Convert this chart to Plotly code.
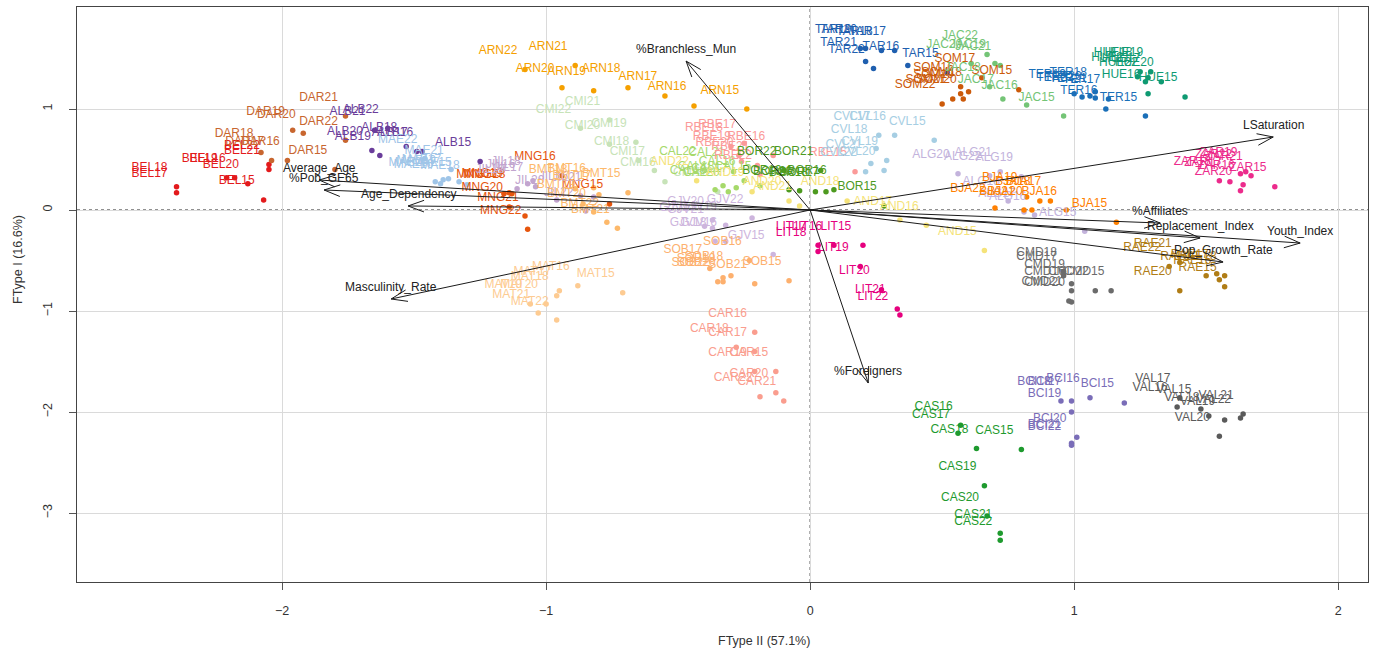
import math
import plotly.graph_objects as go

# ---------------- data ----------------
YEARS = ["15", "16", "17", "18", "19", "20", "21", "22"]

BEL_x = [-2.07, -2.18, -2.40, -2.40, -2.21, -2.13, -2.05, -2.05]
BEL_y = [0.10, 0.32, 0.17, 0.23, 0.32, 0.26, 0.40, 0.45]
DAR_x = [-1.80, -1.98, -2.04, -2.08, -1.96, -1.92, -1.76, -1.76]
DAR_y = [0.40, 0.49, 0.49, 0.57, 0.79, 0.76, 0.93, 0.69]
ALB_x = [-1.25, -1.47, -1.49, -1.53, -1.63, -1.66, -1.65, -1.60]
ALB_y = [0.48, 0.58, 0.58, 0.63, 0.54, 0.59, 0.79, 0.81]
MAE_x = [-1.33, -1.40, -1.37, -1.30, -1.39, -1.42, -1.36, -1.46]
MAE_y = [0.28, 0.26, 0.31, 0.25, 0.30, 0.28, 0.40, 0.51]
MNG_x = [-0.76, -0.94, -1.16, -1.13, -1.14, -1.14, -1.08, -1.07]
MNG_y = [0.06, 0.34, 0.16, 0.16, 0.17, 0.03, -0.06, -0.19]
JIL_x = [-0.87, -1.07, -1.04, -1.05, -1.11, -0.96, -0.82, -0.85]
JIL_y = [0.14, 0.26, 0.23, 0.29, 0.21, 0.10, 0.13, -0.01]
BMT_x = [-0.69, -0.82, -0.80, -0.89, -0.86, -0.82, -0.73, -0.77]
BMT_y = [0.17, 0.22, 0.15, 0.21, 0.06, -0.02, -0.18, -0.12]
ARN_x = [-0.24, -0.44, -0.55, -0.69, -0.82, -0.94, -0.89, -1.08]
ARN_y = [1.00, 1.03, 1.13, 1.21, 1.18, 1.21, 1.43, 1.39]
CMI_x = [-0.35, -0.55, -0.59, -0.65, -0.66, -0.76, -0.76, -0.87]
CMI_y = [0.18, 0.28, 0.39, 0.49, 0.67, 0.65, 0.89, 0.81]
CAL_x = [-0.19, -0.25, -0.28, -0.33, -0.36, -0.31, -0.29, -0.40]
CAL_y = [0.24, 0.29, 0.22, 0.24, 0.20, 0.18, 0.38, 0.39]
AND_x = [0.66, 0.44, 0.34, 0.14, -0.22, -0.08, -0.04, -0.43]
AND_y = [-0.40, -0.15, -0.10, 0.09, 0.18, 0.09, 0.04, 0.29]
RBE_x = [0.17, -0.14, -0.25, -0.30, -0.27, -0.26, -0.20, -0.19]
RBE_y = [0.38, 0.54, 0.66, 0.63, 0.54, 0.48, 0.44, 0.35]
BOR_x = [0.28, 0.09, 0.06, 0.02, -0.08, -0.04, 0.04, -0.10]
BOR_y = [0.04, 0.20, 0.18, 0.18, 0.20, 0.19, 0.39, 0.39]
CVL_x = [0.47, 0.32, 0.26, 0.25, 0.29, 0.28, 0.23, 0.21]
CVL_y = [0.69, 0.74, 0.74, 0.61, 0.49, 0.39, 0.46, 0.38]
GJV_x = [-0.14, -0.32, -0.40, -0.36, -0.32, -0.37, -0.37, -0.22]
GJV_y = [-0.44, -0.31, -0.16, -0.31, -0.15, -0.10, -0.18, -0.08]
SOB_x = [-0.08, -0.23, -0.38, -0.30, -0.33, -0.33, -0.21, -0.35]
SOB_y = [-0.70, -0.50, -0.58, -0.65, -0.67, -0.71, -0.73, -0.71]
MAT_x = [-0.71, -0.88, -0.95, -0.96, -1.06, -1.00, -1.03, -0.96]
MAT_y = [-0.82, -0.75, -0.80, -0.85, -0.93, -0.93, -1.02, -1.09]
CAR_x = [-0.13, -0.21, -0.21, -0.28, -0.21, -0.13, -0.10, -0.19]
CAR_y = [-1.60, -1.21, -1.40, -1.36, -1.60, -1.81, -1.89, -1.85]
LIT_x = [0.20, 0.09, 0.03, 0.03, 0.19, 0.27, 0.33, 0.34]
LIT_y = [-0.35, -0.35, -0.35, -0.41, -0.56, -0.79, -0.98, -1.04]
TAR_x = [0.52, 0.37, 0.32, 0.27, 0.19, 0.21, 0.21, 0.24]
TAR_y = [1.36, 1.43, 1.58, 1.58, 1.60, 1.60, 1.47, 1.40]
SOM_x = [0.79, 0.57, 0.65, 0.60, 0.57, 0.58, 0.54, 0.50]
SOM_y = [1.19, 1.22, 1.31, 1.17, 1.15, 1.10, 1.10, 1.05]
JAC_x = [0.96, 0.82, 0.73, 0.68, 0.70, 0.61, 0.72, 0.67]
JAC_y = [0.93, 1.04, 1.10, 1.22, 1.45, 1.45, 1.43, 1.54]
TER_x = [1.27, 1.12, 1.13, 1.08, 1.00, 1.06, 1.08, 1.03]
TER_y = [0.93, 1.00, 1.10, 1.17, 1.15, 1.13, 1.11, 1.12]
HUE_x = [1.42, 1.28, 1.28, 1.25, 1.29, 1.33, 1.24, 1.27]
HUE_y = [1.12, 1.15, 1.31, 1.37, 1.37, 1.27, 1.32, 1.27]
ZAR_x = [1.76, 1.64, 1.59, 1.55, 1.65, 1.63, 1.67, 1.63]
ZAR_y = [0.23, 0.25, 0.28, 0.29, 0.38, 0.19, 0.34, 0.36]
ALG_x = [1.04, 0.85, 0.81, 0.75, 0.80, 0.56, 0.72, 0.68]
ALG_y = [-0.21, -0.05, -0.02, 0.09, 0.33, 0.36, 0.38, 0.34]
BJA_x = [1.16, 0.97, 0.91, 0.87, 0.82, 0.84, 0.81, 0.70]
BJA_y = [-0.12, 0.00, 0.09, 0.09, 0.13, 0.00, 0.00, 0.02]
RAE_x = [1.57, 1.55, 1.54, 1.57, 1.50, 1.40, 1.40, 1.36]
RAE_y = [-0.76, -0.69, -0.63, -0.65, -0.65, -0.80, -0.52, -0.56]
CMD_x = [1.14, 0.99, 0.96, 0.96, 0.99, 0.99, 0.98, 1.08]
CMD_y = [-0.80, -0.80, -0.65, -0.61, -0.73, -0.91, -0.90, -0.80]
BCI_x = [1.19, 1.06, 0.99, 0.95, 0.99, 1.01, 0.99, 0.99]
BCI_y = [-1.91, -1.86, -1.89, -1.89, -2.00, -2.25, -2.31, -2.33]
VAL_x = [1.48, 1.39, 1.40, 1.51, 1.57, 1.55, 1.64, 1.63]
VAL_y = [-1.97, -1.95, -1.86, -2.04, -2.08, -2.24, -2.02, -2.06]
CAS_x = [0.80, 0.57, 0.56, 0.63, 0.66, 0.67, 0.72, 0.72]
CAS_y = [-2.37, -2.13, -2.21, -2.36, -2.73, -3.03, -3.20, -3.27]

VAR_NAMES = ["LSaturation", "Youth_Index", "Pop_Growth_Rate", "Replacement_Index",
             "%Affiliates", "Masculinity_Rate", "Age_Dependency", "%Pob_GE65",
             "Average_Age", "%Branchless_Mun", "%Foreigners"]
VAR_X = [1.754, 1.856, 1.564, 1.477, 1.326, -1.587, -1.523, -1.841, -1.86, -0.470, 0.220]
VAR_Y = [0.723, -0.327, -0.515, -0.277, -0.129, -0.881, 0.040, 0.198, 0.297, 1.475, -1.713]

X_TITLE = "FType II (57.1%)"
Y_TITLE = "FType I (16.6%)"

# ---------------- style ----------------
COLORS = {
    "BEL": "#E31A1C", "DAR": "#C8662F", "ALB": "#6A3D9A", "MAE": "#9FC5E8",
    "MNG": "#E6550D", "JIL": "#C2A5CF", "BMT": "#FDB96B", "ARN": "#F5A000",
    "CMI": "#C7E3B8", "CAL": "#A6D96A", "AND": "#F5E37A", "RBE": "#FB9A99",
    "BOR": "#4D9A1F", "CVL": "#A6CEE3", "GJV": "#CDB5DD", "SOB": "#FDB06E",
    "MAT": "#FDCB92", "CAR": "#FA9D8E", "LIT": "#E6007E", "TAR": "#1F5FAF",
    "SOM": "#CC5A0A", "JAC": "#74C476", "TER": "#1A6FB8", "HUE": "#0E9A72",
    "ZAR": "#EC2B8C", "ALG": "#C3B3DC", "BJA": "#FF8000", "RAE": "#B07D16",
    "CMD": "#6B6B6B", "BCI": "#7A6DB8", "VAL": "#5A5A5A", "CAS": "#1E9A2E",
}
G = globals()
GROUP_ORDER = ["BEL", "DAR", "ALB", "MAE", "MNG", "JIL", "BMT", "ARN", "CMI", "CAL",
               "AND", "RBE", "BOR", "CVL", "GJV", "SOB", "MAT", "CAR", "LIT", "TAR",
               "SOM", "JAC", "TER", "HUE", "ZAR", "ALG", "BJA", "RAE", "CMD", "BCI",
               "VAL", "CAS"]

W, H = 1378, 657
ML, MR, MT, MB = 77, 10, 7, 75
XR = [-2.777, 2.113]
YR = [-3.683, 2.010]
SX = (W - ML - MR) / (XR[1] - XR[0])   # px per unit
SY = (H - MT - MB) / (YR[1] - YR[0])

FONT = "Liberation Sans, Arial, sans-serif"
LBL_DX = -27 / SX
LBL_DY = 18.5 / SY

fig = go.Figure()

# zero dotted lines
fig.add_shape(type="line", x0=0, x1=0, y0=YR[0], y1=YR[1], xref="x", yref="y",
              line=dict(color="#222222", width=1, dash="dot"), layer="below")
fig.add_shape(type="line", x0=XR[0], x1=XR[1], y0=0, y1=0, xref="x", yref="y",
              line=dict(color="#222222", width=1, dash="dot"), layer="below")

# points
for g in GROUP_ORDER:
    xs, ys = G[g + "_x"], G[g + "_y"]
    fig.add_trace(go.Scatter(x=xs, y=ys, mode="markers",
                             marker=dict(size=5.5, color=COLORS[g]),
                             hoverinfo="skip", showlegend=False))
# labels
for g in GROUP_ORDER:
    xs, ys = G[g + "_x"], G[g + "_y"]
    fig.add_trace(go.Scatter(x=[v + LBL_DX for v in xs], y=[v + LBL_DY for v in ys],
                             mode="text", text=[g + yy for yy in YEARS],
                             textfont=dict(family=FONT, size=12, color=COLORS[g]),
                             hoverinfo="skip", showlegend=False))

# arrows
ax, ay = [], []
HEAD_L, HEAD_A = 17, math.radians(20)
for tx, ty in zip(VAR_X, VAR_Y):
    ang = math.atan2(ty * SY, tx * SX)
    ax += [0, tx, None]
    ay += [0, ty, None]
    hx, hy = [], []
    for s in (1, -1):
        a = ang + s * HEAD_A
        hx.append(tx - HEAD_L * math.cos(a) / SX)
        hy.append(ty - HEAD_L * math.sin(a) / SY)
    ax += [hx[0], tx, hx[1], None]
    ay += [hy[0], ty, hy[1], None]
fig.add_trace(go.Scatter(x=ax, y=ay, mode="lines", line=dict(color="#1a1a1a", width=1),
                         hoverinfo="skip", showlegend=False))

for name, tx, ty in zip(VAR_NAMES, VAR_X, VAR_Y):
    fig.add_annotation(x=tx, y=ty, text=name, showarrow=False, yshift=12,
                       font=dict(family=FONT, size=12, color="#222222"))

fig.add_annotation(xref="paper", yref="paper", x=(764 - ML) / (W - ML - MR),
                   y=(H - MB - 641) / (H - MT - MB), text=X_TITLE, showarrow=False,
                   xanchor="center", yanchor="middle",
                   font=dict(family=FONT, size=12.5, color="#333333"))
fig.add_annotation(xref="paper", yref="paper", x=(18 - ML) / (W - ML - MR),
                   y=(H - MB - 260) / (H - MT - MB), text=Y_TITLE, showarrow=False,
                   xanchor="center", yanchor="middle",
                   textangle=-90, font=dict(family=FONT, size=12.5, color="#333333"))

axis_common = dict(showgrid=True, gridcolor="#dadada", gridwidth=1, zeroline=False,
                   showline=True, mirror=True, linecolor="#444444", linewidth=1,
                   ticks="outside", ticklen=7, tickcolor="#555555",
                   tickfont=dict(family=FONT, size=12.5, color="#333333"))
fig.update_layout(
    width=W, height=H, margin=dict(l=ML, r=MR, t=MT, b=MB),
    paper_bgcolor="white", plot_bgcolor="white",
    xaxis=dict(range=XR, tickvals=[-2, -1, 0, 1, 2], ticklabelstandoff=10, **axis_common),
    yaxis=dict(range=YR, tickvals=[-3, -2, -1, 0, 1], tickangle=-90,
               ticklabelstandoff=12, **axis_common),
)

fig.write_html("out.html")
